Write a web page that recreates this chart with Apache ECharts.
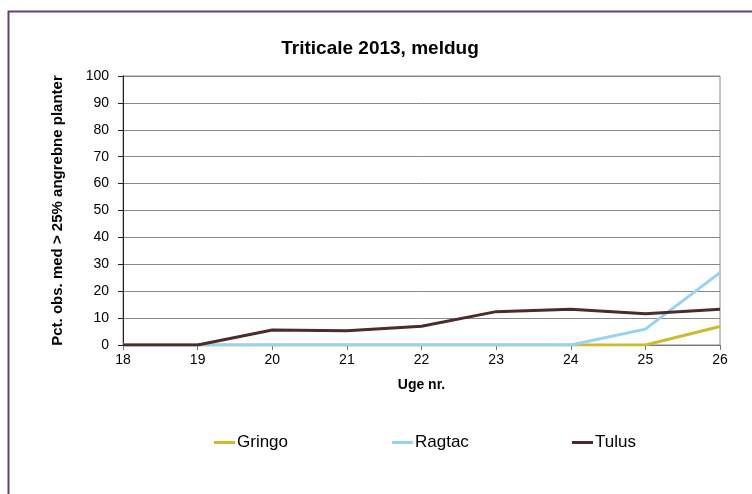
<!DOCTYPE html>
<html>
<head>
<meta charset="utf-8">
<script src="https://cdn.jsdelivr.net/npm/echarts@6/dist/echarts.min.js"></script>
<style>html,body{margin:0;padding:0;background:#fff;}#c{width:752px;height:494px;}</style>
</head>
<body>
<div id="c"></div>
<script>
const weeks = ['18','19','20','21','22','23','24','25','26'];
const gringo = [0, 0, 0, 0, 0, 0, 0, 0, 6.9];
const ragtac = [0, 0, 0, 0, 0, 0, 0, 5.9, 26.9];
const tulus = [0, 0, 5.6, 5.3, 7.0, 12.4, 13.3, 11.6, 13.3];
const seriesNames = ['Gringo', 'Ragtac', 'Tulus'];
const seriesColors = ['#CDBB2E', '#95D3F0', '#4D2B2B'];

const font = 'Liberation Sans, Arial, sans-serif';
const chart = echarts.init(document.getElementById('c'), null, {renderer: 'canvas'});
const legendLefts = [209, 387, 567];
const option = {
  animation: false,
  backgroundColor: '#fff',
  title: {
    text: 'Triticale 2013, meldug',
    left: 375, top: 34, textAlign: 'center',
    textStyle: {fontFamily: font, fontSize: 19, fontWeight: 'bold', color: '#000'}
  },
  graphic: [{
    type: 'rect', left: 6, top: 9, z: -1,
    shape: {width: 800, height: 600},
    style: {fill: 'none', stroke: '#63406F', lineWidth: 2}
  }],
  legend: seriesNames.map((n, i) => ({
    data: [n], left: legendLefts[i], top: 429, icon: 'rect',
    itemWidth: 21, itemHeight: 3, itemGap: 0,
    textStyle: {fontFamily: font, fontSize: 17, color: '#000', padding: [0, 0, 0, -3]}
  })),
  grid: {left: 123, right: 32, top: 76, bottom: 149, show: true, borderColor: '#888', borderWidth: 1},
  xAxis: {
    type: 'category', data: weeks, boundaryGap: false,
    name: 'Uge nr.', nameLocation: 'middle', nameGap: 33,
    nameTextStyle: {fontFamily: font, fontSize: 14, fontWeight: 'bold', color: '#000'},
    axisLine: {lineStyle: {color: '#777', width: 1}},
    axisTick: {show: true, length: 5, lineStyle: {color: '#777'}},
    axisLabel: {fontFamily: font, fontSize: 14, color: '#000', margin: 8},
    splitLine: {show: false}
  },
  yAxis: {
    type: 'value', min: 0, max: 100, interval: 10,
    name: 'Pct. obs. med > 25% angrebne planter', nameLocation: 'middle', nameGap: 58,
    nameTextStyle: {fontFamily: font, fontSize: 15, fontWeight: 'bold', color: '#000'},
    axisLine: {show: true, lineStyle: {color: '#222', width: 1}},
    axisTick: {show: true, length: 5, lineStyle: {color: '#222'}},
    axisLabel: {fontFamily: font, fontSize: 14, color: '#000', margin: 14},
    splitLine: {show: true, lineStyle: {color: '#888', width: 1}}
  },
  series: [gringo, ragtac, tulus].map((d, i) => ({
    name: seriesNames[i], type: 'line', data: d,
    showSymbol: false, symbol: 'none',
    lineStyle: {color: seriesColors[i], width: 3},
    itemStyle: {color: seriesColors[i]}
  }))
};
chart.setOption(option);
</script>
</body>
</html>
